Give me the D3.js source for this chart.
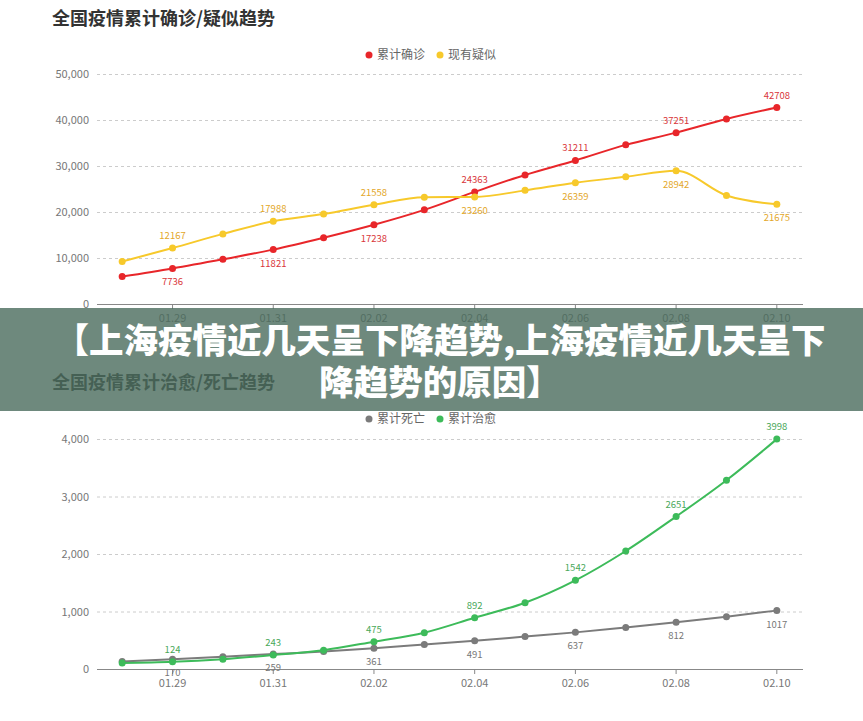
<!DOCTYPE html>
<html>
  <head>
    <meta charset="utf-8">
    <script src="https://d3js.org/d3.v7.min.js"></script>
    <style>
      body { margin: 0; background: #fff; }
      svg text { font-family: "Noto Sans CJK SC", "Noto Sans", sans-serif; }
    </style>
  </head>
  <body>
    <script type="text/javascript">
      // dates, one point per day
      var dates = ["01.28", "01.29", "01.30", "01.31", "02.01", "02.02", "02.03",
                   "02.04", "02.05", "02.06", "02.07", "02.08", "02.09", "02.10"];

      // top chart
      var confirmed = [5974, 7736, 9720, 11821, 14411, 17238, 20471,
                       24363, 28060, 31211, 34598, 37251, 40235, 42708];
      var suspected = [9239, 12167, 15238, 17988, 19544, 21558, 23214,
                       23260, 24702, 26359, 27657, 28942, 23589, 21675];
      var topTicks = [0, 10000, 20000, 30000, 40000, 50000];

      // bottom chart
      var deaths = [132, 170, 213, 259, 304, 361, 425,
                    491, 564, 637, 723, 812, 909, 1017];
      var cured = [103, 124, 171, 243, 328, 475, 632,
                   892, 1153, 1542, 2052, 2651, 3283, 3998];
      var bottomTicks = [0, 1000, 2000, 3000, 4000];

      var W = 863, H = 721;
      var svg = d3.select("body").append("svg")
          .attr("width", W)
          .attr("height", H);

      var x = d3.scaleBand().domain(dates).range([97, 802]).padding(0);
      function cx(d) { return x(d) + x.bandwidth() / 2; }

      function drawChart(opt) {
        var g = svg.append("g");
        var y = d3.scaleLinear().domain([0, opt.max]).range([opt.bottom, opt.bottom - 230]);

        // title
        g.append("text")
          .attr("x", 52).attr("y", opt.titleY)
          .style("font-size", "18px").style("font-weight", "bold")
          .style("fill", "#333")
          .text(opt.title);

        // legend
        var lx = 369;
        opt.series.forEach(function (s, i) {
          var gx = lx + i * 71;
          g.append("circle").attr("cx", gx).attr("cy", opt.legendY).attr("r", 3.5).style("fill", s.color);
          g.append("text").attr("x", gx + 8).attr("y", opt.legendY + 4)
            .style("font-size", "12px").style("fill", "#666").text(s.name);
        });

        // grid
        g.selectAll(".grid").data(opt.ticks.slice(1)).enter()
          .append("line")
          .attr("x1", 97).attr("x2", 803)
          .attr("y1", function (d) { return y(d) + 0.5; })
          .attr("y2", function (d) { return y(d) + 0.5; })
          .style("stroke", "#ccc").style("stroke-dasharray", "3,3");

        // y labels
        g.selectAll(".yl").data(opt.ticks).enter()
          .append("text")
          .attr("x", 89).attr("y", function (d) { return y(d) + 4; })
          .attr("text-anchor", "end")
          .style("font-size", "11px").style("fill", "#777")
          .text(d3.format(","));

        // x axis
        var xa = g.append("g").attr("transform", "translate(0," + opt.bottom + ")")
          .call(d3.axisBottom(x)
            .tickValues(dates.filter(function (d, i) { return i % 2 == 1; }))
            .tickSize(5).tickSizeOuter(0));
        xa.select(".domain").remove();
        xa.insert("line", ":first-child").attr("x1", 97).attr("x2", 803).attr("y1", 0.5).attr("y2", 0.5)
          .style("stroke", "#888");
        xa.selectAll(".tick line").style("stroke", "#888");
        xa.selectAll(".tick text").attr("dy", "0.9em")
          .style("font-size", "11px").style("fill", "#777")
          .style("font-family", "\"Noto Sans CJK SC\", sans-serif");

        // lines, points, labels
        opt.series.forEach(function (s) {
          var line = d3.line()
            .x(function (d, i) { return cx(dates[i]); })
            .y(function (d) { return y(d); })
            .curve(d3.curveMonotoneX);
          g.append("path").datum(s.values).attr("d", line)
            .style("fill", "none").style("stroke", s.color).style("stroke-width", 2);
          g.selectAll(null).data(s.values).enter().append("circle")
            .attr("cx", function (d, i) { return cx(dates[i]); })
            .attr("cy", function (d) { return y(d); })
            .attr("r", 3.5).style("fill", s.color);
          g.selectAll(null).data(s.values).enter()
            .filter(function (d, i) { return i % 2 == 1; })
            .append("text")
            .attr("x", function (d, i) { return cx(dates[i * 2 + 1]); })
            .attr("y", function (d, i) {
              var above = s.above(i * 2 + 1);
              return y(d) + (above ? -9 : 17);
            })
            .attr("text-anchor", "middle")
            .style("font-size", "9.5px").style("fill", s.labelColor)
            .text(function (d) { return d; });
        });
      }

      drawChart({
        title: "全国疫情累计确诊/疑似趋势", titleY: 25, legendY: 55,
        bottom: 304, max: 50000, ticks: topTicks,
        series: [
          { name: "累计确诊", color: "#e8262a", labelColor: "#d9363a", values: confirmed,
            above: function (i) { return i >= 7; } },
          { name: "现有疑似", color: "#f7c92b", labelColor: "#e3a72a", values: suspected,
            above: function (i) { return i < 7; } }
        ]
      });

      drawChart({
        title: "全国疫情累计治愈/死亡趋势", titleY: 389, legendY: 419,
        bottom: 669, max: 4000, ticks: bottomTicks,
        series: [
          { name: "累计死亡", color: "#7b7b7b", labelColor: "#777", values: deaths,
            above: function () { return false; } },
          { name: "累计治愈", color: "#3dbb5a", labelColor: "#4aa85a", values: cured,
            above: function () { return true; } }
        ]
      });

      // banner overlay
      svg.append("rect")
        .attr("x", 0).attr("y", 308).attr("width", W).attr("height", 103)
        .style("fill", "rgb(74,107,92)").style("opacity", 0.8);
      var banner = ["【上海疫情近几天呈下降趋势,上海疫情近几天呈下", "降趋势的原因】"];
      svg.selectAll(".banner").data(banner).enter()
        .append("text")
        .attr("x", 440).attr("y", function (d, i) { return 353 + i * 42; })
        .attr("text-anchor", "middle")
        .style("font-size", "34.5px").style("font-weight", "900")
        .style("fill", "#fff")
        .text(function (d) { return d; });
    </script>
  </body>
</html>
